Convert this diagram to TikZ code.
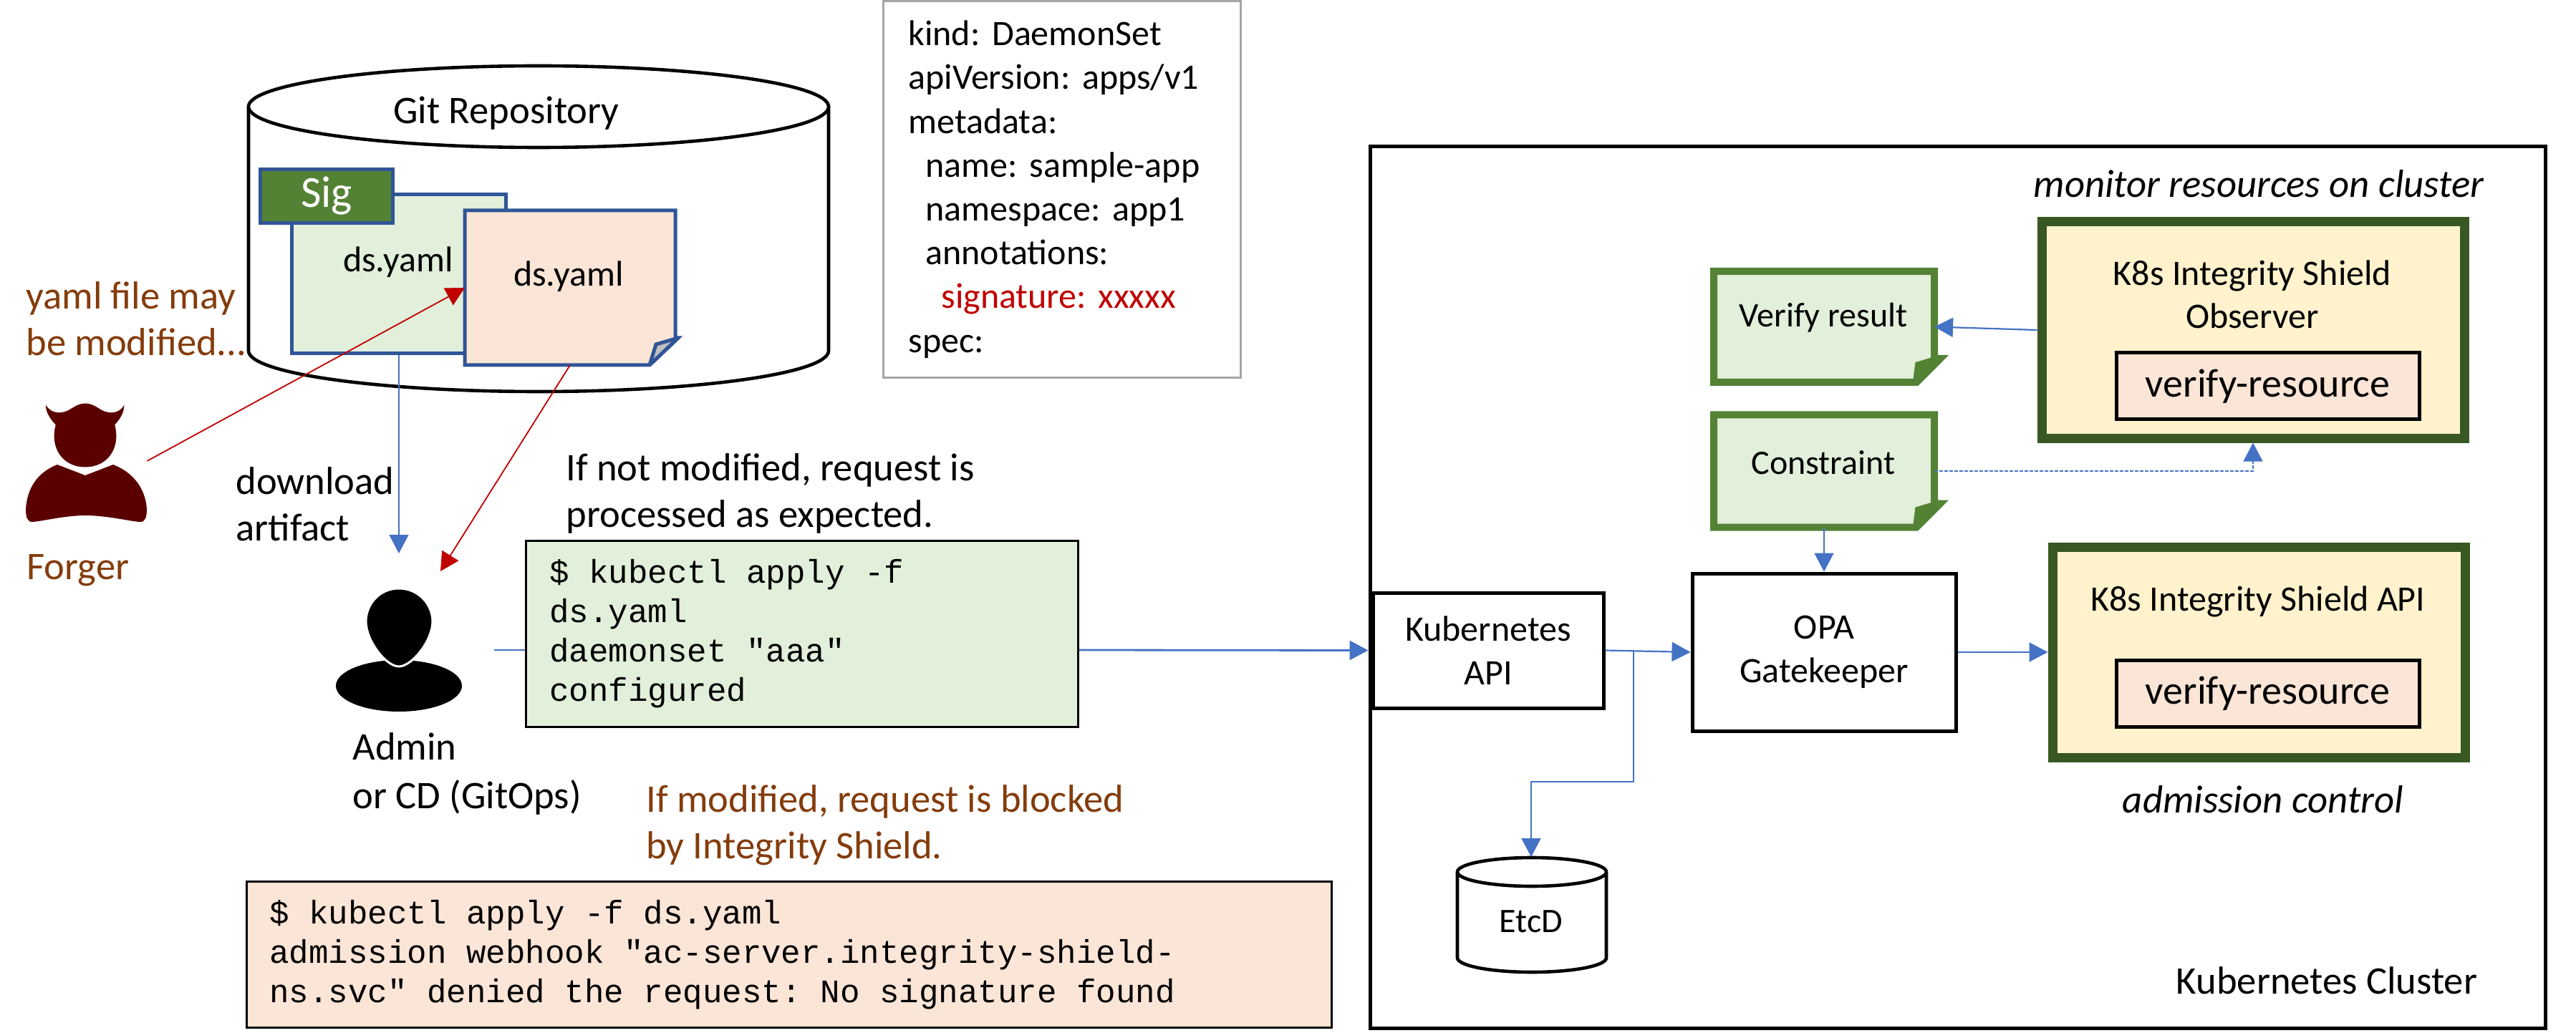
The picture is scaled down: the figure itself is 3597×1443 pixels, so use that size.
\documentclass[tikz,border=0pt]{standalone}
\usepackage{fontspec}
\setmainfont{Carlito}
\setmonofont{Liberation Mono}
\usetikzlibrary{arrows.meta}
\definecolor{linkblue}{HTML}{4472C4}
\definecolor{docblue}{HTML}{2F5597}
\definecolor{leafgreen}{HTML}{548235}
\definecolor{darkgreen}{HTML}{385723}
\definecolor{palegreen}{HTML}{E2EFDA}
\definecolor{palepink}{HTML}{FBE5D6}
\definecolor{paleyellow}{HTML}{FFF2CC}
\definecolor{warnred}{HTML}{C00000}
\definecolor{warnbrown}{HTML}{843C0C}
\definecolor{forgerred}{HTML}{5A0000}
\newlength{\pxunit}
\setlength{\pxunit}{0.5pt}
\newcommand\fsize[2]{\fontsize{#1}{#2}\selectfont\frenchspacing}
\newcommand\drumshape[5]
{
    \draw[drumline] (#1-#3,#2) -- (#1-#3,#5) arc (180:0:#3 and #4) -- (#1+#3,#2);
    \draw[drumline] (#1,#2) ellipse (#3 and #4);
}
% name, place, width, height, line style, fold colour, then the three fold corners
\newcommand\folddoc[9]
{
    \node[docbody,minimum width=#3\pxunit,minimum height=#4\pxunit] (#1) at #2 {};
    \coordinate (#1tip) at ([shift={#7}]#1.south east);
    \draw[#5,miter limit=3] (#1.south west) -- (#1.north west) -- (#1.north east)
      -- (#1.east |- #1tip) -- (#1tip)
      -- ([shift={#8}]#1.south east) -- cycle;
    \draw[#5,miter limit=3,fill=#6] ([shift={#8}]#1.south east) -- ([shift={#9}]#1.south east)
      -- (#1tip) -- cycle;
}

\begin{document}
\begin{tikzpicture}[x=\pxunit,y=-\pxunit]
  \tikzstyle{drumline}=[black,line width=2.3pt,fill=white]
  \tikzstyle{docbody}=[inner sep=0pt,outer sep=0pt]
  \tikzstyle{plainbox}=[draw=black,line width=2.5pt,fill=white,align=center,font=\fsize{25}{30.5}]
  \tikzstyle{shieldbox}=[draw=darkgreen,line width=6.5pt,fill=paleyellow]
  \tikzstyle{verifybox}=[draw=black,line width=2.5pt,fill=palepink,minimum width=423\pxunit,minimum height=93\pxunit,font=\fsize{28}{32}]
  \tikzstyle{cmdbox}=[draw=black,line width=1.5pt,inner ysep=0pt,align=left,font=\ttfamily\fsize{22.9}{27.5},execute at begin node={\spaceskip=13.75pt\relax}]
  \tikzstyle{txt}=[inner sep=0pt,align=left,font=\fsize{27.3}{32.5}]
  \tikzstyle{ctxt}=[inner sep=0pt,align=center,font=\fsize{25}{30}]
  \tikzstyle{warn}=[txt,warnbrown]
  \tikzstyle{link}=[linkblue,line width=1.1pt,-{Triangle[length=13pt,width=13.5pt]}]
  \tikzstyle{redlink}=[warnred,line width=0.9pt,-{Triangle[length=13pt,width=13.5pt]}]
  \useasboundingbox (0,0) rectangle (3597,1443);

  % git repository and the two files
  \drumshape{752}{149}{405}{57}{490}
  \node[ctxt,font=\fsize{27.3}{32}] (gitrepo) at (707,158) {Git Repository};
  \node[draw=docblue,line width=2.5pt,fill=palegreen,minimum width=299\pxunit,minimum height=222\pxunit] (gitdoc) at (557,382.5) {};
  \node[ctxt] (gitdoctext) at (556,366) {ds.yaml};
  \node[draw=docblue,line width=2.5pt,fill=leafgreen,text=white,font=\fsize{31}{36},minimum width=185\pxunit,minimum height=75\pxunit] (sigtag) at (456,274) {Sig};
  \folddoc{forgeddoc}{(796,402)}{294}{216}{draw=docblue,line width=2.5pt,fill=palepink}{black!25}{(4,-38)}{(-36,0)}{(-27,-29)}
  \node[ctxt] (forgeddoctext) at (794,386) {ds.yaml};

  % manifest
  \node[draw=black!35,line width=1.4pt,minimum width=499\pxunit,minimum height=526\pxunit,inner xsep=35\pxunit,text width=429\pxunit,align=left,font=\fsize{25}{30.6}] (manifest) at (1483,264.5)
    {kind: DaemonSet\\
     apiVersion: apps/v1\\
     metadata:\\
     \hspace*{24\pxunit}name: sample-app\\
     \hspace*{24\pxunit}namespace: app1\\
     \hspace*{24\pxunit}annotations:\\
     \hspace*{46\pxunit}\textcolor{warnred}{signature: xxxxx}\\
     spec:};

  % forger
  \node[minimum width=169\pxunit,minimum height=170\pxunit] (forger) at (120.5,644) {};
  \fill[forgerred] (36,711) .. controls (38,682) and (52,660) .. (80,649)
    -- (119,664) -- (158,649) .. controls (186,660) and (203,682) .. (205,711)
    .. controls (205,722) and (203,729) .. (196,729) .. controls (185,729) and (150,720) .. (119,720)
    .. controls (90,720) and (55,729) .. (45,729) .. controls (38,729) and (36,722) .. (36,711) -- cycle;
  \fill[forgerred,draw=white,line width=1.5pt] (119,562) .. controls (110,562) and (104,566) .. (96,571)
    .. controls (84,578) and (68,576) .. (63,559) .. controls (60,572) and (66,583) .. (76,594)
    .. controls (68,625) and (85,654) .. (119,654) .. controls (153,654) and (170,625) .. (162,594)
    .. controls (172,583) and (177,572) .. (174,559) .. controls (170,576) and (154,578) .. (142,571)
    .. controls (134,566) and (128,562) .. (119,562) -- cycle;
  \node[warn] (forgernote) at (36,445) [anchor=west] {yaml file may\\be modified...};
  \node[warn] (forgertext) at (37,797) [anchor=west] {Forger};

  % admin
  \node[minimum width=176\pxunit,minimum height=172\pxunit] (admin) at (557,908) {};
  \fill[black] (557,958) ellipse (88 and 36);
  \fill[black,draw=white,line width=1.5pt] (557,822) .. controls (585,822) and (604,845) .. (604,868)
    .. controls (604,895) and (575,931) .. (557,931) .. controls (539,931) and (511,895) .. (511,868)
    .. controls (511,845) and (529,822) .. (557,822) -- cycle;
  \node[txt] (adminlabel) at (492,1081) [anchor=west,font=\fsize{27.3}{34}] {Admin\\or CD (GitOps)};
  \node[txt] (download) at (329,704) [anchor=west] {download\\artifact};
  \node[txt] (oknote) at (790,689) [anchor=west] {If not modified, request is\\processed as expected.};
  \node[warn] (blocknote) at (902,1153) [anchor=west] {If modified, request is blocked\\by Integrity Shield.};

  % command boxes
  \node[cmdbox,fill=palegreen,minimum width=771\pxunit,minimum height=260\pxunit,inner xsep=33\pxunit,text width=705\pxunit] (cmdok) at (1120,885.5)
    {\$ kubectl apply -f\\ds.yaml\\daemonset "aaa"\\configured};
  \node[cmdbox,fill=palepink,minimum width=1515\pxunit,minimum height=204\pxunit,inner xsep=32\pxunit,text width=1451\pxunit] (cmdno) at (1102,1333.5)
    {\$ kubectl apply -f ds.yaml\\admission webhook "ac-server.integrity-shield-\\ns.svc" denied the request: No signature found};

  % cluster
  \node[draw=black,line width=2.5pt,minimum width=1641\pxunit,minimum height=1231\pxunit] (cluster) at (2733.5,820.5) {};
  \node[ctxt,font=\fsize{27.3}{30}] (clusterlabel) at (3249,1370) {Kubernetes Cluster};
  \node[ctxt,font=\itshape\fsize{27.4}{30}] (monitorlabel) at (3154,257) {monitor resources on cluster};
  \node[ctxt,font=\itshape\fsize{27.4}{30}] (admissionlabel) at (3160,1117) {admission control};

  \node[plainbox,minimum width=322\pxunit,minimum height=161\pxunit] (k8sapi) at (2078,908.5) {Kubernetes\\API};
  \node[plainbox,minimum width=368\pxunit,minimum height=220\pxunit] (opa) at (2547,911) {OPA\\Gatekeeper};
  \drumshape{2139}{1218}{104}{20}{1338}
  \node[ctxt,font=\fsize{24}{28}] (etcd) at (2138,1287) {EtcD};

  \folddoc{verifydoc}{(2547,456.5)}{308}{155}{draw=leafgreen,line width=5pt,fill=palegreen}{leafgreen}{(8,-33)}{(-25,0)}{(-22,-24)}
  \node[ctxt,font=\fsize{24}{28}] (verifytext) at (2546,444) {Verify result};
  \folddoc{constraintdoc}{(2547,658)}{308}{157}{draw=leafgreen,line width=5pt,fill=palegreen}{leafgreen}{(8,-33)}{(-25,0)}{(-22,-24)}
  \node[ctxt,font=\fsize{24}{28}] (constrainttext) at (2546,646) {Constraint};

  \node[shieldbox,minimum width=590\pxunit,minimum height=302\pxunit] (observer) at (3146,461) {};
  \node[ctxt] (observertext) at (3145,411) {K8s Integrity Shield\\Observer};
  \node[verifybox] (verifyobs) at (3166.5,539.5) {verify-resource};
  \node[shieldbox,minimum width=576\pxunit,minimum height=294\pxunit] (shieldapi) at (3154,911) {};
  \node[ctxt] (shieldapitext) at (3153,840) {K8s Integrity Shield API};
  \node[verifybox] (verifyapi) at (3166.5,969) {verify-resource};

  % connectors
  \coordinate (admintop) at (557,773);
  \coordinate (adminred) at (615,798);
  \coordinate (adminout) at (690,908);
  \coordinate (apibranch) at (2281,908);
  \coordinate (etcdbend) at (2281,1092);
  \coordinate (etcdtop) at (2138,1197);

  \draw[redlink] (forger.east) -- (forgeddoc.west);
  \draw[redlink] (forgeddoc.south) -- (adminred);
  \draw[link,line width=0.8pt] (gitdoc.south) -- (admintop);
  \draw[linkblue,line width=1.4pt] (adminout) -- (cmdok.west |- adminout);
  \draw[link,line width=1.4pt] (cmdok.east |- adminout) -- (k8sapi.west -| cluster.west);
  \draw[link] (k8sapi.east) -- (opa.west);
  \draw[link] (apibranch) -- (etcdbend) -| (etcdtop);
  \draw[link] (opa.east) -- (shieldapi.west);
  \draw[link] (constraintdoc.south) -- (opa.north);
  \draw[link] (observer.west) -- (verifydoc.east);
  \draw[link,line width=0.8pt,dash pattern=on 2.5pt off 1pt] (constraintdoc.east) -| (observer.south);
\end{tikzpicture}
\end{document}
